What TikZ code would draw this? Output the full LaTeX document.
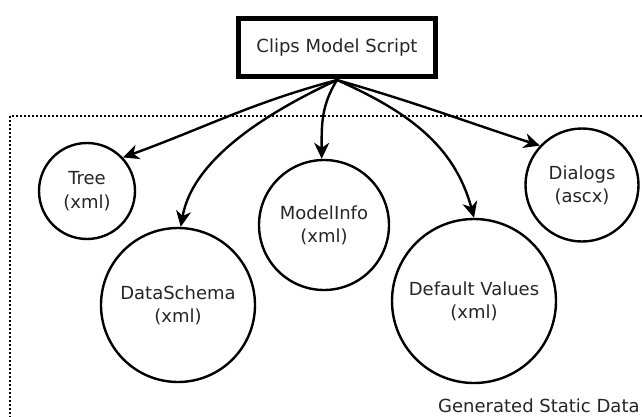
\documentclass[tikz,border=0pt]{standalone}
\usepackage{fontspec}
\setmainfont{DejaVu Sans}
\usetikzlibrary{arrows.meta}
\begin{document}
\begin{tikzpicture}[x=1pt,y=-1pt,
  every node/.style={font=\fontsize{18}{23.3}\selectfont, align=center, inner sep=0pt, text=black!85},
  blob/.style={draw, circle, line width=2.4pt},
  srcbox/.style={draw, rectangle, line width=5pt, minimum width=197pt, minimum height=58pt},
  flow/.style={line width=2.4pt, -{Stealth[length=16pt,width=15pt,inset=5pt]}},
  frame/.style={line width=2.2pt, dash pattern=on 2pt off 2pt}]
\clip (0,0) rectangle (642,417);
\fill[white] (0,0) rectangle (642,417);
\draw[frame] (10,116) rectangle (700,470);
\node[srcbox] (src) at (337,47.5) {Clips Model Script};
\coordinate (s) at (337,80);
\node[blob, minimum size=96pt] (tree) at (87,191) {Tree\\(xml)};
\node[blob, minimum size=154pt] (ds) at (178,305) {DataSchema\\(xml)};
\node[blob, minimum size=130pt] (mi) at (324,225) {ModelInfo\\(xml)};
\node[blob, minimum size=164pt] (dv) at (474,301) {Default Values\\(xml)};
\node[blob, minimum size=113pt] (dlg) at (582,185) {Dialogs\\(ascx)};
\node[anchor=base west] (lbl) at (438,412) {Generated Static Data};
\draw[flow] (s) to[out=195,in=20] (tree.43);
\draw[flow] (s) to[out=205,in=80,looseness=0.85] (ds.88);
\draw[flow] (s) to[out=238,in=90] (mi.92);
\draw[flow] (s) to[out=-24,in=105] (dv.90);
\draw[flow] (s) to[out=-16,in=162] (dlg.137);
\end{tikzpicture}
\end{document}
